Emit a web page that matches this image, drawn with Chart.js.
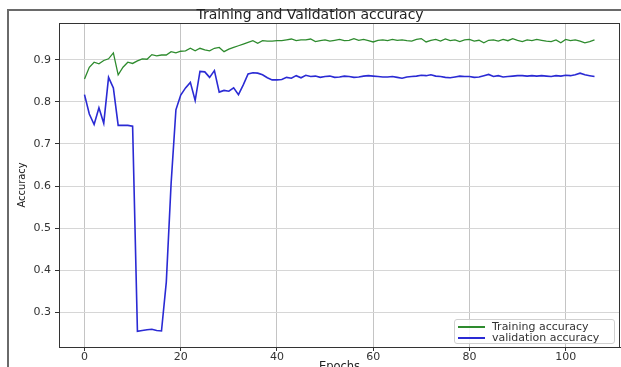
<!DOCTYPE html>
<html>
<head>
<meta charset="utf-8">
<script src="https://cdn.jsdelivr.net/npm/chart.js@4"></script>
<style>
  html, body { margin: 0; padding: 0; width: 621px; height: 367px; overflow: hidden; background: #fff; }
  #wrap { position: relative; width: 621px; height: 380px; }
  #frame { position: absolute; left: 7px; top: 9px; right: -5px; bottom: -5px; border-top: 2px solid #6a6a6a; border-left: 2px solid #6a6a6a; }
  #c { position: absolute; left: 0; top: 0; }
  #legend { position: absolute; left: 454px; top: 319px; width: 159px; height: 23px; border: 1px solid #d0d0d0; border-radius: 3px; background: rgba(255,255,255,0.85); font-family: "DejaVu Sans", sans-serif; font-size: 11px; color: #333; }
  .row { position: absolute; left: 0; height: 11px; line-height: 11px; white-space: nowrap; }
  .swatch { position: absolute; left: 3px; top: 5px; width: 27px; height: 1.5px; }
  .lbl { position: absolute; left: 37px; top: 0; }
</style>
</head>
<body>
<div id="wrap">
  <div id="frame"></div>
  <canvas id="c" width="621" height="380"></canvas>
  <div id="legend"></div>
</div>
<script>
const trainAcc = [
  0.854, 0.882, 0.894, 0.890, 0.898, 0.902, 0.916, 0.864, 0.882, 0.894,
  0.891, 0.897, 0.902, 0.901, 0.912, 0.909, 0.911, 0.911, 0.919, 0.916,
  0.920, 0.921, 0.927, 0.921, 0.927, 0.923, 0.921, 0.927, 0.929, 0.919,
  0.925, 0.929, 0.933, 0.937, 0.941, 0.945, 0.939, 0.945, 0.944, 0.944,
  0.945, 0.945, 0.947, 0.949, 0.945, 0.947, 0.947, 0.949, 0.943, 0.945,
  0.947, 0.944, 0.946, 0.948, 0.945, 0.946, 0.950, 0.946, 0.948, 0.945,
  0.942, 0.946, 0.947, 0.945, 0.948, 0.946, 0.947, 0.945, 0.944, 0.948,
  0.950, 0.942, 0.946, 0.948, 0.944, 0.949, 0.945, 0.947, 0.943, 0.947,
  0.948, 0.944, 0.946, 0.940, 0.946, 0.947, 0.944, 0.948, 0.945, 0.950,
  0.946, 0.943, 0.947, 0.945, 0.948, 0.946, 0.944, 0.943, 0.947, 0.940,
  0.948, 0.945, 0.947, 0.944, 0.940, 0.943, 0.947
];
const valAcc = [
  0.817, 0.771, 0.746, 0.786, 0.749, 0.858, 0.833, 0.744, 0.744, 0.744,
  0.742, 0.255, 0.257, 0.259, 0.260, 0.257, 0.256, 0.372, 0.606, 0.781,
  0.816, 0.833, 0.846, 0.803, 0.872, 0.871, 0.858, 0.874, 0.823, 0.827,
  0.825, 0.833, 0.817, 0.840, 0.866, 0.869, 0.868, 0.864, 0.857, 0.852,
  0.852, 0.853, 0.858, 0.856, 0.862, 0.857, 0.863, 0.860, 0.861, 0.858,
  0.860, 0.861, 0.858, 0.859, 0.861, 0.860, 0.858, 0.859, 0.861, 0.862,
  0.861, 0.860, 0.859, 0.859, 0.860, 0.858, 0.856, 0.859, 0.860, 0.861,
  0.863, 0.862, 0.864, 0.861, 0.860, 0.858, 0.857, 0.859, 0.861, 0.860,
  0.860, 0.858, 0.859, 0.862, 0.865, 0.860, 0.862, 0.859, 0.860, 0.861,
  0.862, 0.862, 0.861, 0.862, 0.861, 0.862, 0.861, 0.860, 0.862, 0.861,
  0.863, 0.862, 0.864, 0.868, 0.864, 0.862, 0.860
];
const epochs = trainAcc.map((_, i) => i);
const xTicks = [0, 20, 40, 60, 80, 100];
const yTicks = [0.3, 0.4, 0.5, 0.6, 0.7, 0.8, 0.9];
const seriesLabels = ['Training accuracy', 'validation accuracy'];
const seriesColors = ['#2e8b2e', '#2a2ad4'];

const tickFont = { family: 'DejaVu Sans', size: 11 };

const boxPlugin = {
  id: 'axesBox',
  afterDraw(chart) {
    const { ctx, chartArea: a } = chart;
    ctx.save();
    ctx.strokeStyle = '#333';
    ctx.lineWidth = 1;
    ctx.strokeRect(Math.round(a.left) + 0.5, Math.round(a.top) + 0.5, Math.round(a.right - a.left) - 1, Math.round(a.bottom - a.top));
    ctx.restore();
  }
};

const chart = new Chart(document.getElementById('c'), {
  type: 'line',
  data: {
    datasets: [
      { label: seriesLabels[0], data: epochs.map((e, i) => ({ x: e, y: trainAcc[i] })), borderColor: seriesColors[0], borderWidth: 1.3, pointRadius: 0, tension: 0, fill: false },
      { label: seriesLabels[1], data: epochs.map((e, i) => ({ x: e, y: valAcc[i] })), borderColor: seriesColors[1], borderWidth: 1.6, pointRadius: 0, tension: 0, fill: false }
    ]
  },
  options: {
    responsive: false,
    devicePixelRatio: 1,
    animation: false,
    layout: { padding: { left: 0, right: 1, top: 0, bottom: 0 } },
    plugins: {
      legend: { display: false },
      tooltip: { enabled: false },
      title: {
        display: true,
        text: 'Training and Validation accuracy',
        color: '#222',
        font: { family: 'DejaVu Sans', size: 14, weight: 'normal', lineHeight: '15px' },
        padding: { top: 8, bottom: 0 }
      }
    },
    scales: {
      x: {
        type: 'linear',
        min: -5.3,
        max: 111.3,
        afterBuildTicks: s => { s.ticks = xTicks.map(v => ({ value: v })); },
        afterFit: s => { s.height = 33; },
        ticks: { font: tickFont, color: '#333', padding: 0, maxRotation: 0, autoSkip: false, callback: v => String(v) },
        grid: { color: '#c4c4c4', lineWidth: 1, tickLength: 4, tickColor: '#333' },
        border: { color: '#333' },
        title: { display: true, text: 'Epochs', color: '#222', font: { family: 'DejaVu Sans', size: 11.5, lineHeight: 1.2 }, padding: { top: 0, bottom: 6 } }
      },
      y: {
        type: 'linear',
        min: 0.218,
        max: 0.987,
        afterBuildTicks: s => { s.ticks = yTicks.map(v => ({ value: v })); },
        afterFit: s => { s.width = 59; },
        ticks: { font: tickFont, color: '#333', padding: 4, autoSkip: false, callback: v => v.toFixed(1) },
        grid: { color: '#d6d6d6', lineWidth: 1, tickLength: 4, tickColor: '#333' },
        border: { color: '#333' },
        title: { display: true, text: 'Accuracy', color: '#222', font: { family: '"Liberation Sans Narrow", "DejaVu Sans Condensed", sans-serif', size: 11, lineHeight: 1.2 }, padding: { top: 16, bottom: 0 } }
      }
    }
  },
  plugins: [boxPlugin]
});

// HTML legend built from the datasets
const legend = document.getElementById('legend');
chart.data.datasets.forEach((ds, i) => {
  const row = document.createElement('div');
  row.className = 'row';
  row.style.top = (1 + i * 11) + 'px';
  const sw = document.createElement('div');
  sw.className = 'swatch';
  sw.style.background = ds.borderColor;
  const lb = document.createElement('span');
  lb.className = 'lbl';
  lb.textContent = ds.label;
  row.appendChild(sw);
  row.appendChild(lb);
  legend.appendChild(row);
});
</script>
</body>
</html>
